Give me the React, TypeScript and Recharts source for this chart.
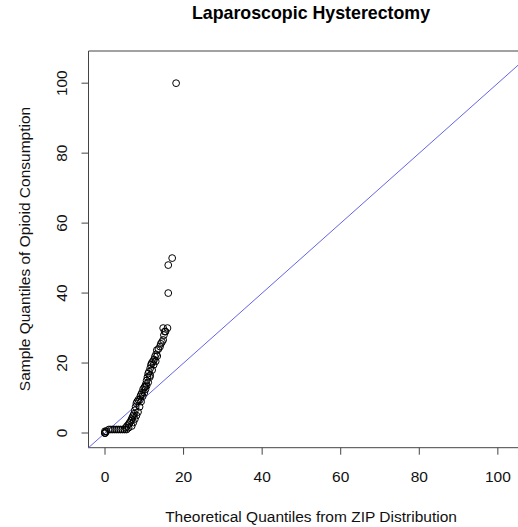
import { ScatterChart, Scatter, XAxis, YAxis, ReferenceLine, ReferenceArea } from 'recharts';

// quantile pairs (theoretical ZIP vs sample)
const theoretical = [
  0, 0, 0, 0, 0.3,
  1, 1.5, 2, 2.5, 3, 3.5, 4, 4.5, 5, 5.5, 6,
  5.3, 5.6, 6, 6.3, 6.6, 6.8, 7, 7.2, 7.4, 7.6,
  6.8, 7.2, 7.6, 8, 8.4, 8.8, 9.2,
  7.8, 8, 8.2, 8.5, 8.9, 9, 9.2, 9.4, 9.7, 10,
  9.6, 10, 10.3, 10.6, 11, 11.4,
  10.2, 10.4, 10.6, 10.8, 11, 11.2, 11.5, 11.7, 11.9, 12.2,
  11.5, 12, 12.4, 12.9, 13.3,
  12.5, 12.7, 13, 13.2, 13.6, 14, 14.2, 14.5, 14.8, 15,
  15.2, 15.4, 14.8, 15.9, 16.1, 16.1, 17.1, 18.1,
];
const sample = [
  0, 0, 0, 0.5, 0.5,
  1, 1, 1, 1, 1, 1, 1, 1, 1, 1, 1.5,
  1.5, 2, 2.5, 3, 3.5, 4, 4.5, 5, 5.5, 6.5,
  2, 3, 4, 5, 6, 7.5, 9,
  7.5, 8.5, 9, 9.5, 9.5, 10.5, 11, 11.5, 12.5, 13,
  10.5, 11.5, 12.5, 13.5, 14.5, 16,
  13.3, 14, 15, 16, 17, 17.5, 18.5, 19.5, 20, 20.5,
  16.5, 18, 19.5, 20.5, 22,
  21, 21.8, 22.5, 23.7, 24, 24.7, 25.5, 26, 26.6, 28,
  29, 29, 30, 30, 40, 48, 50, 100,
];

const xTicks = [0, 20, 40, 60, 80, 100];
const yTicks = [0, 20, 40, 60, 80, 100];
const axisMin = -4.2;
const axisMax = 109.2;

const points = theoretical.map((x, i) => ({ x, y: sample[i] }));

const font = '"Liberation Sans", Arial, sans-serif';

function OpenCircle(props: any) {
  const { cx, cy } = props;
  return <circle cx={cx} cy={cy} r={3.4} fill="none" stroke="#000" strokeWidth={1} />;
}

function YTick(props: any) {
  const { x, y, payload } = props;
  return (
    <text
      x={x}
      y={y}
      transform={`rotate(-90, ${x}, ${y})`}
      textAnchor="middle"
      dominantBaseline="central"
      fontSize={15.5}
      fill="#111"
      fontFamily={font}
    >
      {payload.value}
    </text>
  );
}

export default function App() {
  return (
    <div
      style={{
        position: 'absolute',
        left: 0,
        top: 0,
        width: 518,
        height: 527,
        overflow: 'hidden',
        background: '#fff',
        fontFamily: font,
      }}
    >
      <div
        style={{
          position: 'absolute',
          left: 111,
          width: 400,
          top: 3,
          textAlign: 'center',
          fontWeight: 'bold',
          fontSize: 17.8,
          color: '#000',
        }}
      >
        Laparoscopic Hysterectomy
      </div>
      <div
        style={{
          position: 'absolute',
          left: 111,
          width: 400,
          top: 508,
          textAlign: 'center',
          fontSize: 15.5,
          color: '#111',
        }}
      >
        Theoretical Quantiles from ZIP Distribution
      </div>
      <div
        style={{
          position: 'absolute',
          left: 25 - 200,
          top: 249 - 10,
          width: 400,
          height: 20,
          lineHeight: '20px',
          textAlign: 'center',
          fontSize: 15.5,
          color: '#111',
          transform: 'rotate(-90deg)',
        }}
      >
        Sample Quantiles of Opioid Consumption
      </div>
      <ScatterChart
        width={560}
        height={527}
        margin={{ top: 51, right: 26, bottom: 0, left: 0 }}
        style={{ position: 'absolute', left: 0, top: 0 }}
      >
        <XAxis
          type="number"
          dataKey="x"
          domain={[axisMin, axisMax]}
          ticks={xTicks}
          allowDataOverflow
          height={79.3}
          axisLine={false}
          tickLine={{ stroke: '#444' }}
          tickSize={7}
          tickMargin={16}
          tick={{ fontSize: 15.5, fill: '#111', fontFamily: font }}
        />
        <YAxis
          type="number"
          dataKey="y"
          domain={[axisMin, axisMax]}
          ticks={yTicks}
          allowDataOverflow
          width={88.5}
          axisLine={false}
          tickLine={{ stroke: '#444' }}
          tickSize={7}
          tickMargin={19.5}
          tick={<YTick />}
        />
        <ReferenceArea
          x1={axisMin}
          x2={axisMax}
          y1={axisMin}
          y2={axisMax}
          fill="none"
          fillOpacity={0}
          stroke="#444"
          strokeWidth={1}
        />
        <Scatter data={points} shape={<OpenCircle />} isAnimationActive={false} />
        <ReferenceLine
          segment={[
            { x: axisMin, y: axisMin },
            { x: axisMax, y: axisMax },
          ]}
          stroke="#6464e6"
          strokeWidth={1}
        />
      </ScatterChart>
    </div>
  );
}
